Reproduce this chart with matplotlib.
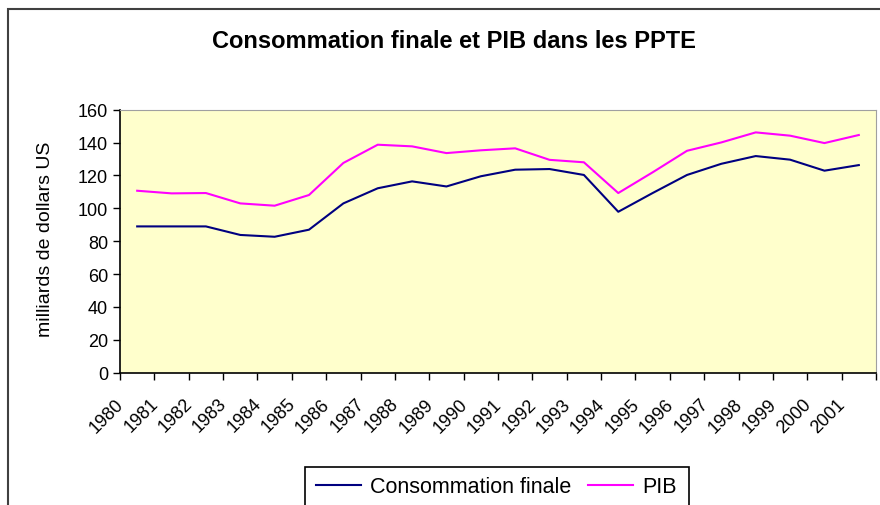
import numpy as np
import matplotlib
matplotlib.use("Agg")
import matplotlib.pyplot as plt
from matplotlib.patches import Rectangle
from matplotlib.transforms import ScaledTranslation

# Data (milliards de dollars US)
years = ['1980', '1981', '1982', '1983', '1984', '1985', '1986', '1987',
         '1988', '1989', '1990', '1991', '1992', '1993', '1994', '1995',
         '1996', '1997', '1998', '1999', '2000', '2001']
consommation = [89.0, 89.0, 89.0, 83.8, 82.7, 87.0, 103.0, 112.2, 116.4, 113.3,
                119.5, 123.5, 123.9, 120.3, 97.9, 109.3, 120.3, 127.1, 131.8,
                129.6, 122.9, 126.3]
pib = [110.7, 109.1, 109.3, 103.0, 101.6, 108.1, 127.6, 138.7, 137.7, 133.6,
       135.3, 136.5, 129.5, 128.0, 109.3, 121.9, 135.0, 140.1, 146.2, 144.2,
       139.7, 144.6]
y_ticks = [0, 20, 40, 60, 80, 100, 120, 140, 160]

W, H = 880, 506
fig = plt.figure(figsize=(W / 100, H / 100), dpi=100)
plt.rcParams['font.family'] = ['Liberation Sans', 'DejaVu Sans']

# plot area in pixels: x 120..876, y 110.7..373.7
ax = fig.add_axes([120 / W, 1 - 373.7 / H, (876 - 120) / W, (373.7 - 110.7) / H])
ax.set_facecolor('#FFFFCC')

x = np.arange(len(years))
ax.plot(x, consommation, color='#000080', lw=1.5, label='Consommation finale')
ax.plot(x, pib, color='#FF00FF', lw=1.5, label='PIB')

ax.set_xlim(-0.5, len(years) - 0.5)
ax.set_ylim(0, 160)
ax.set_yticks(y_ticks)
ax.set_yticklabels([str(v) for v in y_ticks], fontsize=13)

# ticks between categories, labels at category centres
ax.set_xticks(np.arange(-0.5, len(years), 1.0))
ax.set_xticklabels([])
ax.set_xticks(x, minor=True)
ax.set_xticklabels(years, minor=True, rotation=45, ha='right',
                   rotation_mode='anchor', fontsize=13)
ax.tick_params(axis='x', which='minor', length=0, pad=16)
ax.tick_params(axis='both', which='major', direction='out', length=5,
               width=1, color='black')
off = ScaledTranslation(-22 / 100, 0, fig.dpi_scale_trans)
for lab in ax.get_xticklabels(minor=True):
    lab.set_transform(lab.get_transform() + off)

for side in ('top', 'right'):
    ax.spines[side].set_color('#A0A0A0')
for side in ('left', 'bottom'):
    ax.spines[side].set_color('black')
    ax.spines[side].set_linewidth(1.2)

ax.set_ylabel('milliards de dollars US', fontsize=14)
ax.yaxis.set_label_coords((54 - 120) / (876 - 120), 0.51)

fig.text(454 / W, 1 - 42 / H, 'Consommation finale et PIB dans les PPTE',
         ha='center', va='center', fontsize=17, fontweight='bold')

# chart area border (cropped on right and bottom)
fig.patches.append(Rectangle((8 / W, -0.1), 1.0, 1.1 - 10 / H,
                             transform=fig.transFigure, fill=False,
                             edgecolor='#404040', lw=1.5, clip_on=False))

# legend box (cropped at bottom)
fig.patches.append(Rectangle((305 / W, -0.1), (689 - 305) / W, 0.1 + 1 - 468 / H,
                             transform=fig.transFigure, fill=False,
                             edgecolor='black', lw=1.2, clip_on=False))
fig.legend(loc='center', bbox_to_anchor=(496 / W, 1 - 488 / H), ncol=2,
           frameon=False, fontsize=15.5, handlelength=2.1, handletextpad=0.4,
           columnspacing=0.8)

fig.savefig('out.png', dpi=100)
